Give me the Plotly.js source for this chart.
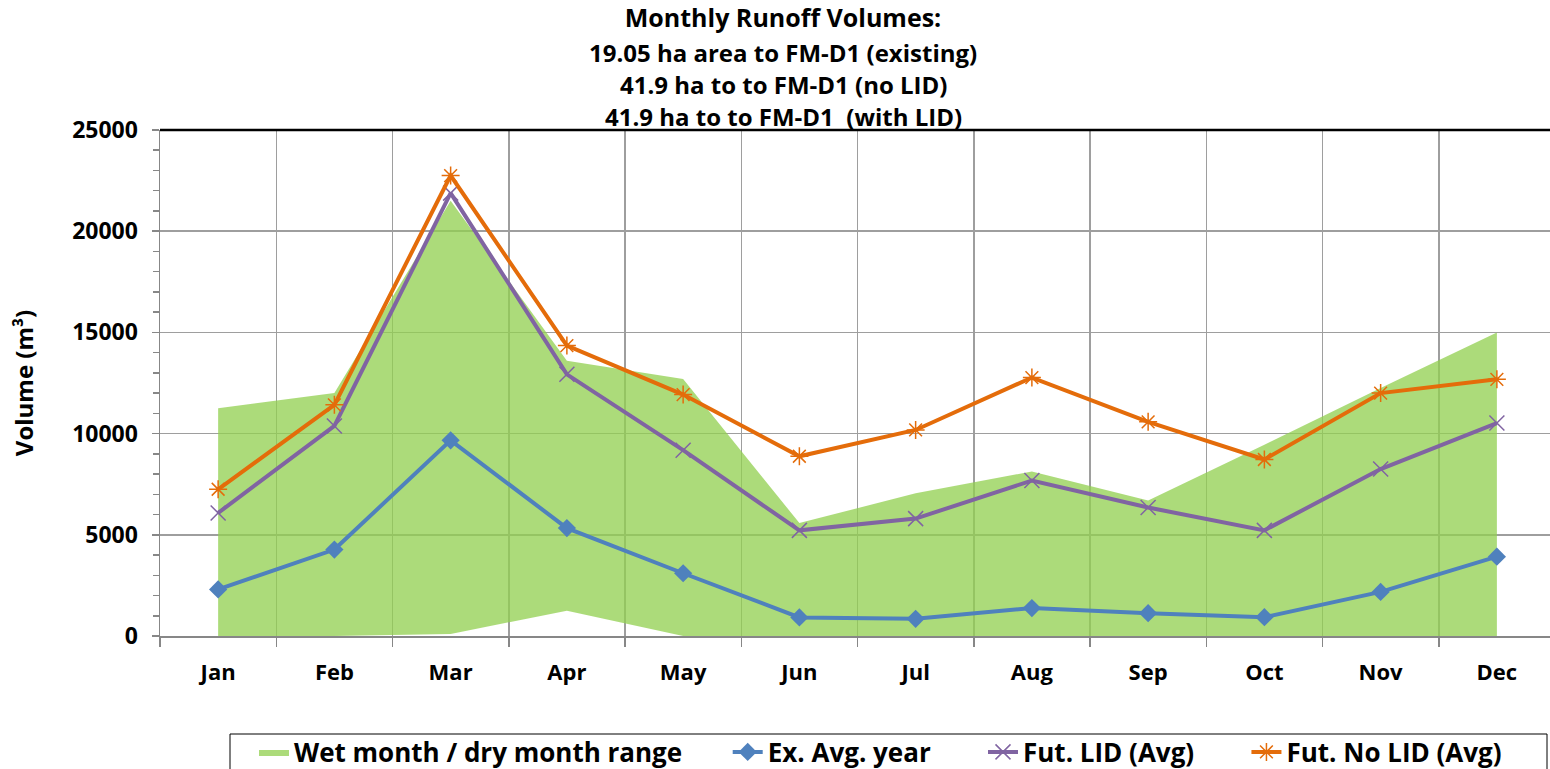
<!DOCTYPE html>
<html><head><meta charset="utf-8">
<script src="https://cdn.plot.ly/plotly-3.0.1.min.js"></script>
<style>html,body{margin:0;padding:0;background:#fff;}#chart{width:1550px;height:769px;}</style>
</head><body><div id="chart"></div>
<script>
const months = ["Jan","Feb","Mar","Apr","May","Jun","Jul","Aug","Sep","Oct","Nov","Dec"];
const wetHigh = [11250,12000,21500,13600,12700,5580,7050,8130,6700,9450,12250,15000];
const dryLow  = [0,0,100,1250,0,0,0,0,0,0,0,0];
const exAvg   = [2300,4270,9670,5330,3100,920,850,1380,1130,930,2180,3920];
const futLid  = [6080,10380,21880,12930,9180,5220,5800,7680,6350,5220,8250,10520];
const futNoLid= [7250,11420,22750,14350,11930,8880,10180,12770,10580,8720,12000,12680];
const titleLines = ["Monthly Runoff Volumes:","19.05 ha area to FM-D1 (existing)","41.9 ha to to FM-D1 (no LID)","41.9 ha to to FM-D1  (with LID)"];
const seriesNames = ["Wet month / dry month range","Ex. Avg. year","Fut. LID (Avg)","Fut. No LID (Avg)"];

const F = "Open Sans, Arial, sans-serif";
const sp = n => '\u00a0'.repeat(n);
const traces = [
  {x: months, y: dryLow, type:'scatter', mode:'lines', line:{width:0}, showlegend:false, hoverinfo:'skip'},
  {x: months, y: wetHigh, type:'scatter', mode:'lines', line:{width:0}, fill:'tonexty',
   fillcolor:'rgba(146,208,80,0.76)', name:seriesNames[0]+sp(6)},
  {x: months, y: exAvg, type:'scatter', mode:'lines+markers', name:seriesNames[1]+sp(7),
   line:{color:'#4F81BD', width:4}, marker:{symbol:'diamond', size:14, color:'#4F81BD'}},
  {x: months, y: futLid, type:'scatter', mode:'lines+markers', name:seriesNames[2]+sp(7),
   line:{color:'#8064A2', width:4}, marker:{symbol:'x-thin-open', size:15, line:{color:'#8064A2', width:1.5}}},
  {x: months, y: futNoLid, type:'scatter', mode:'lines+markers', name:seriesNames[3],
   line:{color:'#E46C0A', width:4}, marker:{symbol:'asterisk-open', size:15, line:{color:'#E46C0A', width:1.5}}}
];

const linePix = [18, 52, 84, 117];
const TX = (783-160)/1390;
const ann = linePix.slice(1).map((p,i)=>({
  text:'<b>'+titleLines[i+1]+'</b>', xref:'paper', yref:'paper', x:TX, y:(636-p)/506,
  xanchor:'center', yanchor:'middle', showarrow:false, font:{family:F, size:24, color:'#000'}
}));

const layout = {
  width:1550, height:769,
  margin:{l:160, r:0, t:130, b:133, autoexpand:false},
  paper_bgcolor:'#fff', plot_bgcolor:'#fff',
  font:{family:F, color:'#000'},
  title:{text:'<b>'+titleLines[0]+'</b>', x:TX, xref:'paper', xanchor:'center', y:1-18/769, yanchor:'middle',
         font:{family:F, size:25, color:'#000'}},
  xaxis:{type:'category', range:[-0.5, -0.5+1390/116.25], tickson:'boundaries',
         showgrid:true, gridcolor:'#9E9E9E', gridwidth:1.5,
         ticks:'outside', ticklen:9, tickcolor:'#878787', tickwidth:1.5,
         showline:true, linecolor:'#878787', linewidth:1.5, ticklabelstandoff:16,
         tickfont:{family:F, size:22, color:'#000', weight:'bold'}, fixedrange:true},
  yaxis:{range:[0,25000], dtick:5000, tickformat:'d', showgrid:true, gridcolor:'#9E9E9E', gridwidth:1.5,
         ticks:'outside', ticklen:7, tickcolor:'#878787', tickwidth:1.5, ticklabelstandoff:9,
         minor:{dtick:1000, ticks:'outside', ticklen:6, tickcolor:'#878787', showgrid:false},
         showline:true, linecolor:'#878787', linewidth:1.5, zeroline:false,
         tickfont:{family:F, size:23, color:'#000', weight:'bold'},
         title:{text:'<b>Volume (m³)</b>', font:{family:F, size:24, color:'#000'}, standoff:31}},
  shapes:[
    {type:'line', xref:'paper', yref:'paper', x0:0, x1:1, y0:1, y1:1, line:{color:'#000', width:2.5}},
    {type:'rect', xref:'paper', yref:'paper', x0:(230-160)/1390, x1:(1547-160)/1390, y0:(636-734)/506, y1:(636-800)/506,
     line:{color:'#000', width:1}, fillcolor:'rgba(0,0,0,0)'}
  ],
  annotations: ann,
  showlegend:true,
  legend:{orientation:'h', x:(254-160)/1390, xanchor:'left', y:(636-752)/506, yanchor:'middle',
          font:{family:F, size:26, color:'#000', weight:'bold'}, bgcolor:'rgba(0,0,0,0)', borderwidth:0,
          itemwidth:30, traceorder:'normal'}
};
Plotly.newPlot('chart', traces, layout, {displayModeBar:false, staticPlot:true});
</script></body></html>
